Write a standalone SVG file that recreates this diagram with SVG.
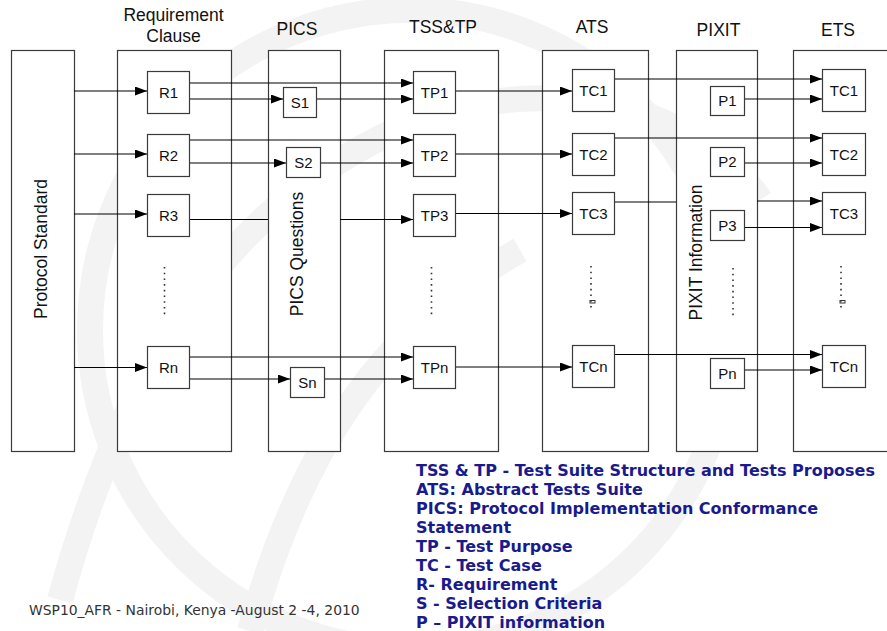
<svg xmlns="http://www.w3.org/2000/svg" width="887" height="631" viewBox="0 0 887 631">
<style>
.bg{fill:none;stroke:#f3f3f3;stroke-width:26}
.col{fill:#fff;stroke:#3a3a3a;stroke-width:1.2}
.box{fill:#fff;stroke:#3a3a3a;stroke-width:1.2}
.hd{font-family:"Liberation Sans",Arial,sans-serif;font-size:17.5px;fill:#111;text-anchor:middle}
.lb{font-family:"Liberation Sans",Arial,sans-serif;font-size:15px;fill:#111;text-anchor:middle}
.rot{font-family:"Liberation Sans",Arial,sans-serif;font-size:17.5px;fill:#111;text-anchor:middle}
.ln{fill:none;stroke:#000;stroke-width:1.1}
.ar{marker-end:url(#ah)}
.dot{fill:none;stroke:#333;stroke-width:1.6;stroke-dasharray:1.6 4.1}
.lg{font-family:"DejaVu Sans",Verdana,sans-serif;font-weight:bold;font-size:16px;fill:#1a1a8c}
.ft{font-family:"DejaVu Sans",Verdana,sans-serif;font-size:13.9px;fill:#333}
</style>
<defs>
<marker id="ah" markerUnits="userSpaceOnUse" markerWidth="13" markerHeight="9" refX="12" refY="4.5" orient="auto">
<path d="M0,0 L12,4.5 L0,9 z" fill="#000"/>
</marker>
</defs>
<g id="watermark">
<circle class="bg" cx="410" cy="330" r="320"/>
<path class="bg" d="M60,600 C120,380 220,200 420,120 C560,70 700,110 760,200"/>
<path class="bg" d="M250,631 C300,450 380,330 520,250"/>
</g>
<g id="headers">
<text class="hd" x="173.5" y="21">Requirement</text>
<text class="hd" x="173.5" y="41.5">Clause</text>
<text class="hd" x="297" y="35">PICS</text>
<text class="hd" x="443" y="33">TSS&amp;TP</text>
<text class="hd" x="592" y="33">ATS</text>
<text class="hd" x="718.5" y="36">PIXIT</text>
<text class="hd" x="838" y="36">ETS</text>
</g>
<g id="col-protocol"><rect class="col" x="11.5" y="50.5" width="63" height="401"/><text class="rot" transform="translate(46.5,249) rotate(-90)">Protocol Standard</text></g>
<g id="col-req"><rect class="col" x="117.5" y="50.5" width="114" height="401"/></g>
<g id="col-pics"><rect class="col" x="268.5" y="50.5" width="72" height="401"/></g>
<g id="col-tss"><rect class="col" x="384.5" y="50.5" width="114" height="401"/></g>
<g id="col-ats"><rect class="col" x="542.5" y="50.5" width="106" height="401"/></g>
<g id="col-pixit"><rect class="col" x="676.5" y="50.5" width="81" height="401"/></g>
<g id="col-ets"><rect class="col" x="793.5" y="50.5" width="110" height="401"/></g>
<g id="connectors">
<path class="ln ar" d="M74,91H147"/>
<path class="ln ar" d="M189,83H413"/>
<path class="ln ar" d="M189,99H283"/>
<path class="ln ar" d="M316,99H413"/>
<path class="ln ar" d="M455,91H572"/>
<path class="ln ar" d="M614,79H822"/>
<path class="ln ar" d="M744,99H822"/>
<path class="ln ar" d="M74,154H147"/>
<path class="ln ar" d="M189,140H413"/>
<path class="ln ar" d="M189,163H286"/>
<path class="ln ar" d="M321,163H413"/>
<path class="ln ar" d="M455,154H572"/>
<path class="ln ar" d="M614,138H822"/>
<path class="ln ar" d="M744,163H822"/>
<path class="ln ar" d="M74,214H147"/>
<path class="ln" d="M189,219.5H268"/>
<path class="ln ar" d="M340,219.5H413"/>
<path class="ln ar" d="M455,213.5H572"/>
<path class="ln" d="M614,202H676"/>
<path class="ln ar" d="M757,201H822"/>
<path class="ln ar" d="M744,227.5H822"/>
<path class="ln ar" d="M74,367.5H147"/>
<path class="ln ar" d="M189,357H413"/>
<path class="ln ar" d="M189,379H290"/>
<path class="ln ar" d="M324,379H413"/>
<path class="ln ar" d="M455,367H572"/>
<path class="ln ar" d="M614,354.5H822"/>
<path class="ln ar" d="M744,370H822"/>
</g>
<g id="pics-label"><rect x="286" y="188" width="20" height="132" fill="#fff"/><text class="rot" transform="translate(303,254) rotate(-90)">PICS Questions</text></g>
<g id="pixit-label"><rect x="684" y="181" width="20" height="143" fill="#fff"/><text class="rot" transform="translate(702,252.5) rotate(-90)">PIXIT Information</text></g>
<g id="R1"><rect class="box" x="147.5" y="71.5" width="42" height="42"/><text class="lb" x="168.5" y="97.5">R1</text></g>
<g id="R2"><rect class="box" x="147.5" y="134.5" width="42" height="42"/><text class="lb" x="168.5" y="160.5">R2</text></g>
<g id="R3"><rect class="box" x="147.5" y="194.5" width="42" height="42"/><text class="lb" x="168.5" y="220.5">R3</text></g>
<g id="Rn"><rect class="box" x="147.5" y="346.5" width="42" height="42"/><text class="lb" x="168.5" y="372.5">Rn</text></g>
<g id="S1"><rect class="box" x="283.5" y="87.5" width="33" height="30"/><text class="lb" x="300" y="107.5">S1</text></g>
<g id="S2"><rect class="box" x="286.5" y="147.5" width="34" height="30"/><text class="lb" x="303.5" y="167.5">S2</text></g>
<g id="Sn"><rect class="box" x="290.5" y="367.5" width="34" height="30"/><text class="lb" x="307.5" y="387.5">Sn</text></g>
<g id="TP1"><rect class="box" x="413.5" y="71.5" width="42" height="42"/><text class="lb" x="434.5" y="97.5">TP1</text></g>
<g id="TP2"><rect class="box" x="413.5" y="134.5" width="42" height="42"/><text class="lb" x="434.5" y="160.5">TP2</text></g>
<g id="TP3"><rect class="box" x="413.5" y="194.5" width="42" height="42"/><text class="lb" x="434.5" y="220.5">TP3</text></g>
<g id="TPn"><rect class="box" x="413.5" y="346.5" width="42" height="42"/><text class="lb" x="434.5" y="372.5">TPn</text></g>
<g id="TC1"><rect class="box" x="572.5" y="69.5" width="42" height="42"/><text class="lb" x="593.5" y="95.5">TC1</text></g>
<g id="TC2"><rect class="box" x="572.5" y="133.5" width="42" height="42"/><text class="lb" x="593.5" y="159.5">TC2</text></g>
<g id="TC3"><rect class="box" x="572.5" y="192.5" width="42" height="42"/><text class="lb" x="593.5" y="218.5">TC3</text></g>
<g id="TCn"><rect class="box" x="572.5" y="345.5" width="42" height="42"/><text class="lb" x="593.5" y="371.5">TCn</text></g>
<g id="P1"><rect class="box" x="710.5" y="86.5" width="34" height="29"/><text class="lb" x="727.5" y="106">P1</text></g>
<g id="P2"><rect class="box" x="710.5" y="147.5" width="34" height="29"/><text class="lb" x="727.5" y="167">P2</text></g>
<g id="P3"><rect class="box" x="710.5" y="210.5" width="34" height="30"/><text class="lb" x="727.5" y="230.5">P3</text></g>
<g id="Pn"><rect class="box" x="710.5" y="358.5" width="34" height="30"/><text class="lb" x="727.5" y="378.5">Pn</text></g>
<g id="ETC1"><rect class="box" x="822.5" y="69.5" width="43" height="42"/><text class="lb" x="844" y="95.5">TC1</text></g>
<g id="ETC2"><rect class="box" x="822.5" y="133.5" width="43" height="42"/><text class="lb" x="844" y="159.5">TC2</text></g>
<g id="ETC3"><rect class="box" x="822.5" y="192.5" width="43" height="42"/><text class="lb" x="844" y="218.5">TC3</text></g>
<g id="ETCn"><rect class="box" x="822.5" y="345.5" width="43" height="42"/><text class="lb" x="844" y="371.5">TCn</text></g>
<g id="ellipses">
<path class="dot" d="M164.5,267V315"/>
<path class="dot" d="M431.5,267V315"/>
<path class="dot" d="M591,266V311"/>
<rect x="590" y="300.5" width="5" height="2.5" fill="none" stroke="#333" stroke-width="1"/>
<path class="dot" d="M733,268V318"/>
<path class="dot" d="M841,266V311"/>
<rect x="840" y="300.5" width="5" height="2.5" fill="none" stroke="#333" stroke-width="1"/>
</g>
<g id="legend">
<text class="lg" x="416" y="476">TSS &amp; TP - Test Suite Structure and Tests Proposes</text>
<text class="lg" x="416" y="495">ATS: Abstract Tests Suite</text>
<text class="lg" x="416" y="514">PICS: Protocol Implementation Conformance</text>
<text class="lg" x="416" y="533">Statement</text>
<text class="lg" x="416" y="552">TP - Test Purpose</text>
<text class="lg" x="416" y="571">TC - Test Case</text>
<text class="lg" x="416" y="590">R- Requirement</text>
<text class="lg" x="416" y="609">S - Selection Criteria</text>
<text class="lg" x="416" y="628">P – PIXIT information</text>
</g>
<text class="ft" x="29" y="615">WSP10_AFR - Nairobi, Kenya -August 2 -4, 2010</text>
</svg>
